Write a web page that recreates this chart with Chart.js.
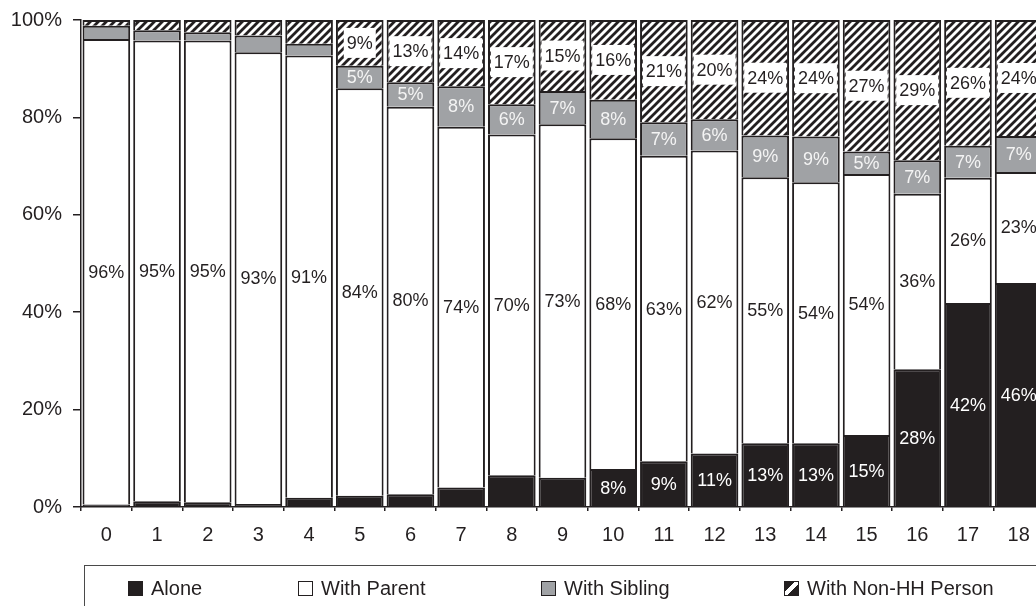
<!DOCTYPE html>
<html>
<head>
<meta charset="utf-8">
<title>Living arrangements by age</title>
<script src="https://cdn.jsdelivr.net/npm/chart.js@4.4.1/dist/chart.umd.min.js"></script>
<style>
  html, body { margin: 0; padding: 0; background: #fff; width: 1036px; height: 606px; overflow: hidden; }
  #wrap { position: absolute; left: 0; top: 0; width: 1050px; height: 606px; }
  #legend {
    position: absolute; left: 84px; top: 565px; width: 1000px; height: 80px;
    border: 1.5px solid #4a4a4a; box-sizing: border-box;
    font-family: "Liberation Sans", Arial, sans-serif; font-size: 20px; color: #231f20;
  }
  .item { position: absolute; top: 10px; height: 24px; line-height: 24px; white-space: nowrap; }
  .swatch { position: absolute; left: 0; top: 5px; width: 13px; height: 13px; border: 1.2px solid #231f20; }
  .item span.txt { position: absolute; left: 23px; top: 0; }
</style>
</head>
<body>
<div id="wrap"><canvas id="chart" width="1050" height="606"></canvas></div>
<div id="legend"></div>
<script>
// Age of child (years)
const ages = ['0','1','2','3','4','5','6','7','8','9','10','11','12','13','14','15','16','17','18'];

// Series names
const seriesNames = ['Alone', 'With Parent', 'With Sibling', 'With Non-HH Person'];

// Share of time (%) by who the child is with
const alone       = [0.5, 1.2, 1.0, 0.6, 1.9, 2.3, 2.6, 4.0, 6.5, 6.0, 7.8, 9.4, 11.0, 13.1, 13.1, 14.8, 28.3, 41.9, 46.0];
const withParent  = [95.6, 94.6, 94.8, 92.8, 90.8, 83.7, 79.6, 74.1, 70.0, 72.6, 67.9, 62.7, 62.2, 54.6, 53.6, 53.6, 36.0, 25.7, 22.8];
const withSibling = [2.7, 2.1, 1.7, 3.4, 2.4, 4.6, 5.0, 8.3, 6.2, 6.8, 7.9, 6.9, 6.4, 8.6, 9.4, 4.6, 6.9, 6.6, 7.4];
const withNonHH   = [1.2, 2.1, 2.5, 3.2, 4.9, 9.4, 12.8, 13.6, 17.3, 14.6, 16.4, 21.0, 20.4, 23.7, 23.9, 27.0, 28.8, 25.8, 23.8];

// Y axis tick values (%)
const yTicks = [0, 20, 40, 60, 80, 100];

// First age index whose segment carries a value label, per series
const labelFrom = [10, 0, 5, 5];

const DARK = '#231f20';
const GREY = '#a0a2a5';
const FONT = '"Liberation Sans", Arial, Helvetica, sans-serif';

const ctx = document.getElementById('chart').getContext('2d');

// Diagonal hatch used for the non-household segments
function hatchTile() {
  const c = document.createElement('canvas');
  c.width = 8; c.height = 8;
  const g = c.getContext('2d');
  g.fillStyle = '#fff';
  g.fillRect(0, 0, 8, 8);
  g.strokeStyle = DARK;
  g.lineWidth = 2.8;
  g.beginPath();
  [0, 8, 16].forEach(k => { g.moveTo(k + 3, -3); g.lineTo(-3, k + 3); });
  g.stroke();
  return c;
}
const hatch = ctx.createPattern(hatchTile(), 'repeat');

const fills = [DARK, '#ffffff', GREY, hatch];
const labelColors = ['#ffffff', DARK, '#f4f4f4', DARK];
const labelBoxes = [false, false, false, true];
const seriesData = [alone, withParent, withSibling, withNonHH];

const datasets = seriesNames.map((name, i) => ({
  label: name,
  data: seriesData[i],
  backgroundColor: fills[i],
  borderColor: DARK,
  borderWidth: 2,
  barPercentage: 0.94,
  categoryPercentage: 1.0,
  labelColor: labelColors[i],
  labelBox: labelBoxes[i]
}));

// Percentage labels centred in each segment
const segmentLabels = {
  id: 'segmentLabels',
  afterDatasetsDraw(chart) {
    const c = chart.ctx;
    c.save();
    c.font = '18px ' + FONT;
    c.textAlign = 'center';
    c.textBaseline = 'middle';
    chart.data.datasets.forEach((ds, i) => {
      const meta = chart.getDatasetMeta(i);
      meta.data.forEach((el, j) => {
        if (j < labelFrom[i]) return;
        const txt = Math.round(ds.data[j]) + '%';
        const x = el.x;
        const y = (el.y + el.base) / 2;
        if (ds.labelBox) {
          const w = c.measureText(txt).width + 6;
          c.fillStyle = '#ffffff';
          c.fillRect(x - w / 2, y - 15, w, 30);
        }
        c.fillStyle = ds.labelColor;
        c.fillText(txt, x, y + 1);
      });
    });
    c.restore();
  }
};

new Chart(ctx, {
  type: 'bar',
  data: { labels: ages, datasets },
  options: {
    responsive: false,
    animation: false,
    devicePixelRatio: 1,
    layout: { padding: { top: 20, right: 6, left: 0, bottom: 0 } },
    plugins: { legend: { display: false }, tooltip: { enabled: false } },
    scales: {
      x: {
        stacked: true,
        offset: true,
        afterFit: s => { s.height = 99; s.paddingLeft = 0; s.paddingRight = 0; },
        grid: { offset: true, drawOnChartArea: false, tickLength: 4, color: DARK, lineWidth: 1.5 },
        border: { color: DARK, width: 1.5 },
        ticks: { color: DARK, font: { family: FONT, size: 20 }, padding: 12 }
      },
      y: {
        stacked: true,
        min: 0,
        max: 100,
        afterFit: s => { s.width = 81; s.paddingTop = 0; s.paddingBottom = 0; },
        afterBuildTicks: s => { s.ticks = yTicks.map(v => ({ value: v })); },
        grid: { drawOnChartArea: false, tickLength: 8, color: DARK, lineWidth: 1.5 },
        border: { color: DARK, width: 1.5 },
        ticks: { color: DARK, font: { family: FONT, size: 20 }, padding: 11, callback: v => v + '%' }
      }
    }
  },
  plugins: [segmentLabels]
});

// Legend row in a framed box under the axis
const legendX = [43, 213, 456, 699];
const legend = document.getElementById('legend');
seriesNames.forEach((name, i) => {
  const item = document.createElement('div');
  item.className = 'item';
  item.style.left = legendX[i] + 'px';
  const sw = document.createElement('div');
  sw.className = 'swatch';
  if (i === 0) sw.style.background = DARK;
  else if (i === 1) sw.style.background = '#fff';
  else if (i === 2) sw.style.background = GREY;
  else sw.style.background = 'linear-gradient(135deg, ' + DARK + ' 0 38%, #fff 38% 60%, ' + DARK + ' 60% 100%)';
  const t = document.createElement('span');
  t.className = 'txt';
  t.textContent = name;
  item.appendChild(sw);
  item.appendChild(t);
  legend.appendChild(item);
});
</script>
</body>
</html>
